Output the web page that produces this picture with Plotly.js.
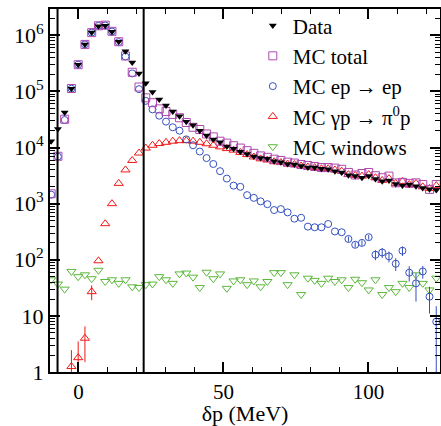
<!DOCTYPE html>
<html>
<head>
<meta charset="utf-8">
<script src="https://cdn.plot.ly/plotly-3.0.1.min.js"></script>
</head>
<body style="margin:0">
<!-- the serif face is only picked up once some HTML text has used it -->
<div style="position:absolute;left:-2000px;top:0;font-family:'Liberation Serif';font-size:20px">δp (MeV) γp → π0p MC ep → ep 10</div>
<div id="plot" style="width:441px;height:426px"></div>
<script>
// bin centres, delta p in MeV
var dp = [-9.40, -7.07, -4.74, -2.41, -0.08, 2.25, 4.58, 6.91, 9.24, 11.57,
  13.90, 16.23, 18.56, 20.89, 23.22, 25.55, 27.88, 30.21, 32.54, 34.87,
  37.20, 39.53, 41.86, 44.19, 46.52, 48.85, 51.18, 53.51, 55.84, 58.17,
  60.50, 62.83, 65.16, 67.49, 69.82, 72.15, 74.48, 76.81, 79.14, 81.47,
  83.80, 86.13, 88.46, 90.79, 93.12, 95.45, 97.78, 100.11, 102.44, 104.77,
  107.10, 109.43, 111.76, 114.09, 116.42, 118.75, 121.08, 123.41];

var countsData = [1.3e4, 2.15e4, 4.2e4, 1.12e5, 3.0e5, 6.9e5, 1.12e6, 1.46e6, 1.48e6, 1.16e6,
  7.7e5, 5.2e5, 3.3e5, 2.1e5, 1.4e5, 9.8e4, 7.2e4, 5.6e4, 4.4e4, 3.6e4,
  2.9e4, 2.5e4, 2.0e4, 1.65e4, 1.4e4, 1.25e4, 1.05e4, 9.5e3, 8.4e3, 7.7e3,
  6.9e3, 6.5e3, 6.3e3, 5.7e3, 5.5e3, 5.1e3, 5.0e3, 4.7e3, 4.4e3, 4.4e3,
  4.2e3, 4.1e3, 3.8e3, 3.6e3, 3.2e3, 3.1e3, 2.9e3, 3.1e3, 2.75e3, 2.5e3,
  2.6e3, 2.25e3, 2.1e3, 2.2e3, 2.05e3, 1.9e3, 1.8e3, 1.75e3];

var mcTotal = [1.5e3, 7.0e3, 3.2e4, 1.13e5, 3.0e5, 6.9e5, 1.12e6, 1.48e6, 1.52e6, 1.18e6,
  7.7e5, 4.3e5, 2.2e5, 1.2e5, 7.7e4, 6.3e4, 4.9e4, 4.4e4, 3.9e4, 3.4e4,
  2.8e4, 2.3e4, 2.1e4, 1.75e4, 1.55e4, 1.3e4, 1.2e4, 1.08e4, 9.8e3, 8.8e3,
  7.9e3, 7.1e3, 6.7e3, 6.2e3, 5.9e3, 5.5e3, 5.3e3, 5.0e3, 4.8e3, 4.6e3,
  4.4e3, 4.4e3, 4.3e3, 4.1e3, 3.6e3, 3.25e3, 3.45e3, 3.6e3, 3.15e3, 2.9e3,
  3.1e3, 2.35e3, 2.4e3, 2.3e3, 2.35e3, 2.2e3, 1.8e3, 2.2e3];

var mcEp = [1.45e3, 6.9e3, 3.1e4, 1.12e5, 3.0e5, 6.9e5, 1.12e6, 1.48e6, 1.5e6, 1.17e6,
  7.6e5, 4.2e5, 2.1e5, 1.1e5, 6.8e4, 4.8e4, 3.7e4, 2.9e4, 2.3e4, 2.0e4,
  1.4e4, 1.1e4, 8.5e3, 6.5e3, 5.1e3, 3.8e3, 2.8e3, 2.1e3, 2.0e3, 1.42e3,
  1.27e3, 1.1e3, 980, 770, 800, 700, 540, 560, 390, 380,
  380, 435, 320, 310, 235, 185, 200, 253, 123, 135,
  115, 85, 145, 59, 38, 62, 22, 7.9];
var mcEpErr = [0, 0, 0, 0, 0, 0, 0, 0, 0, 0,
  0, 0, 0, 0, 0, 0, 0, 0, 0, 0,
  0, 0, 0, 0, 0, 0, 0, 0, 0, 0,
  0, 0, 0, 0, 0, 0, 0, 0, 0, 0,
  0, 0, 0, 0, 25, 20, 22, 25, 25, 27,
  25, 22, 28, 18, 20, 16, 11, 7];

var mcPi0 = [null, null, null, 1.25, 1.8, 4.0, 27, 96, 440, 1.0e3,
  2.3e3, 4.0e3, 5.9e3, 8.0e3, 9.8e3, 1.1e4, 1.18e4, 1.24e4, 1.3e4, 1.33e4,
  1.33e4, 1.3e4, 1.24e4, 1.17e4, 1.1e4, 1.03e4, 9.6e3, 9.0e3, 8.2e3, 7.5e3,
  6.8e3, 6.3e3, 6.0e3, 5.6e3, 5.4e3, 5.1e3, 5.0e3, 4.7e3, 4.5e3, 4.4e3,
  4.2e3, 4.2e3, 4.0e3, 3.8e3, 3.3e3, 3.2e3, 3.1e3, 3.3e3, 2.9e3, 2.6e3,
  2.8e3, 2.3e3, 2.5e3, 2.2e3, 2.3e3, 2.0e3, 1.86e3, 2.1e3];
var mcPi0Err = [0, 0, 0, 1.2, 1.7, 2.5, 8, 0, 0, 0,
  0, 0, 0, 0, 0, 0, 0, 0, 0, 0,
  0, 0, 0, 0, 0, 0, 0, 0, 0, 0,
  0, 0, 0, 0, 0, 0, 0, 0, 0, 0,
  0, 0, 0, 0, 0, 0, 0, 0, 0, 0,
  0, 0, 0, 0, 0, 0, 0, 0];

var mcWindows = [44, 37, 30, 62, 50, 54, 46, 65, 41, 44,
  38, 44, 33, 32, 36, 37, 50, 44, 38, 56,
  58, 49, 32, 60, 46, 56, 31, 42, 44, 36,
  42, 33, 41, 59, 59, 36, 54, 24, 47, 43,
  38, 47, 41, 44, 32, 45, 39, 29, 44, 24,
  32, 27, 38, 32, 54, 38, 29, 47];

var cutLines = [-7.2, 22.5];

var yTickVals = [1, 10, 100, 1e3, 1e4, 1e5, 1e6];
var yTickText = ['1', '10', '10<sup>2</sup>', '10<sup>3</sup>', '10<sup>4</sup>', '10<sup>5</sup>', '10<sup>6</sup>'];

var minorY = [];
yTickVals.forEach(function (d) {
  for (var k = 2; k <= 9; k++) minorY.push(d * k);
});

function openMarker(symbol, color, size) {
  return {symbol: symbol, size: size, color: color, line: {color: color, width: 1}};
}

var windows = {
  x: dp, y: mcWindows, type: 'scatter', mode: 'markers', name: 'MC windows',
  marker: openMarker('triangle-down-open', '#5cb83c', 8)
};
var pi0 = {
  x: dp, y: mcPi0, type: 'scatter', mode: 'markers', name: 'MC γp → π<sup>0</sup>p',
  marker: openMarker('triangle-up-open', '#f01818', 8),
  error_y: {type: 'data', array: mcPi0Err, visible: true, color: '#f01818', thickness: 1, width: 0}
};
var ep = {
  x: dp, y: mcEp, type: 'scatter', mode: 'markers', name: 'MC ep → ep',
  marker: openMarker('circle-open', '#3550c0', 7),
  error_y: {type: 'data', array: mcEpErr, visible: true, color: '#3550c0', thickness: 1, width: 0}
};
var total = {
  x: dp, y: mcTotal, type: 'scatter', mode: 'markers', name: 'MC total',
  marker: openMarker('square-open', '#b048b0', 8)
};
var data = {
  x: dp, y: countsData, type: 'scatter', mode: 'markers', name: 'Data',
  marker: {symbol: 'triangle-down', size: 7, color: '#000'}
};

var shapes = cutLines.map(function (v) {
  return {type: 'line', xref: 'x', yref: 'paper', x0: v, x1: v, y0: 0, y1: 1,
    line: {color: '#000', width: 2}};
});

var layout = {
  width: 441, height: 426,
  margin: {l: 50, r: 1, t: 9, b: 54},
  font: {family: 'Liberation Serif', size: 20, color: '#000'},
  showlegend: true,
  legend: {
    x: 0.52, y: 1.01, xanchor: 'left', yanchor: 'top',
    traceorder: 'reversed', bgcolor: 'rgba(0,0,0,0)',
    font: {family: 'Liberation Serif', size: 21}
  },
  xaxis: {
    range: [-9.8, 124.7], showgrid: false, zeroline: false,
    showline: true, linecolor: '#000', linewidth: 2, mirror: 'ticks',
    ticks: 'inside', ticklen: 10, tickwidth: 1.5, tickcolor: '#000',
    tickvals: [0, 50, 100], ticktext: ['0', '50', '100'],
    tickfont: {family: 'Liberation Serif', size: 21},
    minor: {dtick: 10, ticks: 'inside', ticklen: 5, tickcolor: '#000', tickwidth: 1.2, showgrid: false},
    title: {text: 'δp (MeV)', font: {family: 'Liberation Serif', size: 22}, standoff: 6}
  },
  yaxis: {
    type: 'log', range: [0, 6.47], showgrid: false, zeroline: false,
    showline: true, linecolor: '#000', linewidth: 2, mirror: 'ticks',
    ticks: 'inside', ticklen: 10, tickwidth: 1.5, tickcolor: '#000',
    tickvals: yTickVals, ticktext: yTickText,
    tickfont: {family: 'Liberation Serif', size: 22},
    minor: {tickvals: minorY, ticks: 'inside', ticklen: 5, tickcolor: '#000', tickwidth: 1, showgrid: false}
  },
  shapes: shapes
};

Plotly.newPlot('plot', [windows, pi0, ep, total, data], layout, {displayModeBar: false});
</script>
</body>
</html>
